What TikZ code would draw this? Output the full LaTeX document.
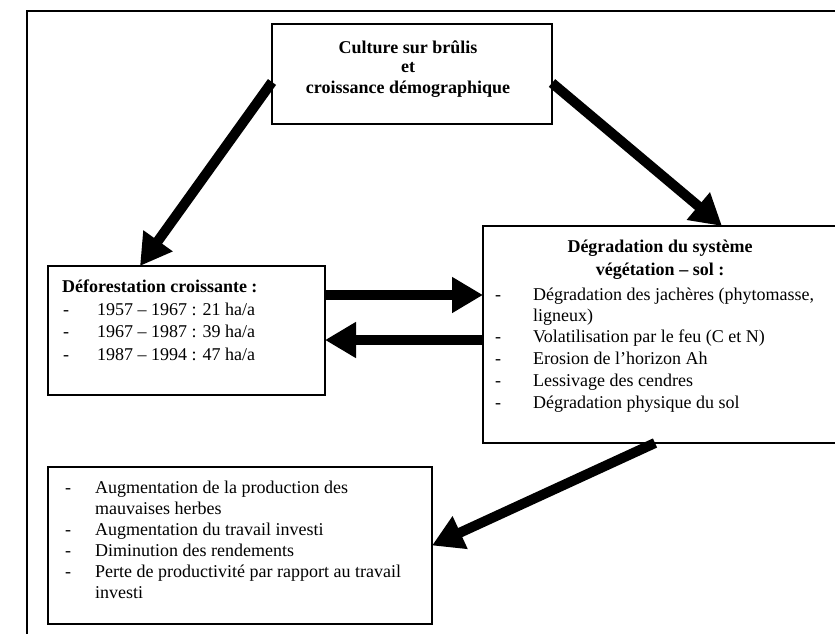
\documentclass[tikz,border=0pt]{standalone}
\usepackage{fontspec}
\setmainfont{Liberation Serif}
\usetikzlibrary{arrows.meta,calc}
\newcommand\dashitem[2]{\makebox[#1][l]{-}#2}
\begin{document}
\begin{tikzpicture}[x=1pt,y=-1pt,
  box/.style={draw,line width=1.4pt,inner sep=0pt,outer sep=0pt,anchor=north west},
  txt/.style={anchor=base west,inner sep=0pt,font=\fontsize{18}{21}\selectfont},
  hdl/.style={anchor=base west,inner sep=0pt,font=\fontsize{18}{21}\selectfont\bfseries},
  hd/.style={anchor=base,inner sep=0pt,font=\fontsize{18}{21}\selectfont\bfseries},
  bigarrow/.style={line width=10pt,-{Triangle[width=34pt,length=31pt]}},
]
\useasboundingbox (0,0) rectangle (835,634);
\clip (0,0) rectangle (835,634);
% outer frame
\draw[line width=2pt] (836,11) -- (27,11) -- (27,636);
% boxes
\node[box,minimum width=280pt,minimum height=100pt] (top) at (272,24) {};
\node[box,minimum width=277pt,minimum height=129pt] (lbox) at (48,266) {};
\node[box,minimum width=362pt,minimum height=217pt] (rbox) at (483,226) {};
\node[box,minimum width=384pt,minimum height=157pt] (bbox) at (48,467) {};
% arrows
\draw[bigarrow] ([yshift=-8pt]top.west) -- ([xshift=92pt]lbox.north west);
\draw[bigarrow] ([yshift=-9pt]top.east) -- ([xshift=239pt]rbox.north west);
\draw[bigarrow] ([yshift=-29pt]lbox.north east) -- ([yshift=-29pt]lbox.north east -| rbox.west);
\draw[bigarrow] ([yshift=-74pt]lbox.north east -| rbox.west) -- ([yshift=-74pt]lbox.north east);
\draw[bigarrow] ([xshift=172pt]rbox.south west) -- (bbox.east);
% top text
\node[hd] (t1) at (408,53) {Culture sur brûlis};
\node[hd] (t2) at (408,73) {et};
\node[hd] (t3) at (408,93) {croissance démographique};
% left text
\node[hdl] (l0) at (62,292) {Déforestation croissante :};
\node[txt] (l1) at (63,315) {\dashitem{34pt}{1957 – 1967 : 21 ha/a}};
\node[txt] (l2) at (63,337) {\dashitem{34pt}{1967 – 1987 : 39 ha/a}};
\node[txt] (l3) at (63,360) {\dashitem{34pt}{1987 – 1994 : 47 ha/a}};
% right text
\node[hd] (r0) at (660,252) {Dégradation du système};
\node[hd] (r00) at (660,275) {végétation – sol :};
\node[txt] (r1) at (495,300) {\dashitem{38pt}{Dégradation des jachères (phytomasse,}};
\node[txt] (r1b) at (533,321) {ligneux)};
\node[txt] (r2) at (495,342) {\dashitem{38pt}{Volatilisation par le feu (C et N)}};
\node[txt] (r3) at (495,364) {\dashitem{38pt}{Erosion de l’horizon Ah}};
\node[txt] (r4) at (495,386) {\dashitem{38pt}{Lessivage des cendres}};
\node[txt] (r5) at (495,408) {\dashitem{38pt}{Dégradation physique du sol}};
% bottom text
\node[txt] (b1) at (65,493) {\dashitem{30pt}{Augmentation de la production des}};
\node[txt] (b1b) at (95,514) {mauvaises herbes};
\node[txt] (b2) at (65,535) {\dashitem{30pt}{Augmentation du travail investi}};
\node[txt] (b3) at (65,556) {\dashitem{30pt}{Diminution des rendements}};
\node[txt] (b4) at (65,577) {\dashitem{30pt}{Perte de productivité par rapport au travail}};
\node[txt] (b4b) at (95,598) {investi};
\end{tikzpicture}
\end{document}
